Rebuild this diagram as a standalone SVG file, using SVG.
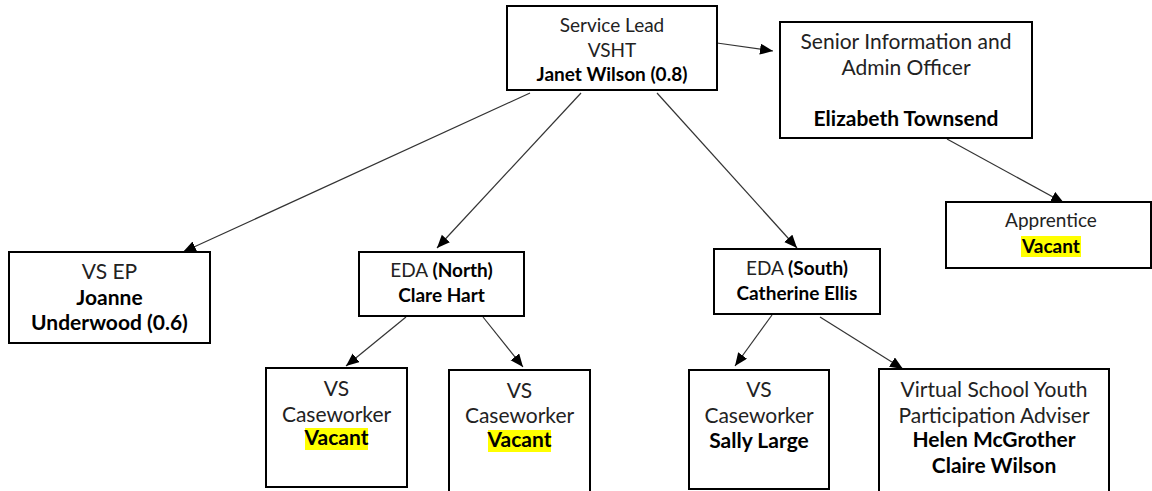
<svg xmlns="http://www.w3.org/2000/svg" width="1152" height="491" viewBox="0 0 1152 491">
  <defs>
    <marker id="arrow" markerUnits="userSpaceOnUse" markerWidth="14" markerHeight="12" refX="13" refY="5.5" orient="auto">
      <path d="M0,0 L13,5.5 L0,11 Z" fill="#000"/>
    </marker>
    <style>
      .box { fill: #fff; stroke: #000; stroke-width: 2; }
      .lnk { stroke: #333; stroke-width: 1.2; fill: none; marker-end: url(#arrow); }
      text { font-family: Lato, "Liberation Sans", sans-serif; text-anchor: middle; fill: #222; }
      .s20 { font-size: 19px; }
      .s22 { font-size: 21px; }
      .b { font-weight: bold; fill: #000; }
      .hl { fill: #ffff00; }
    </style>
  </defs>

  <rect width="1152" height="491" fill="#fff"/>

  <!-- reporting lines -->
  <g id="connectors">
    <line class="lnk" x1="717" y1="43" x2="773" y2="51"/>
    <line class="lnk" x1="530" y1="93" x2="183" y2="252"/>
    <line class="lnk" x1="581" y1="93" x2="437" y2="248"/>
    <line class="lnk" x1="657" y1="93" x2="797" y2="248"/>
    <line class="lnk" x1="947" y1="139" x2="1064" y2="203"/>
    <line class="lnk" x1="406" y1="317" x2="346" y2="366"/>
    <line class="lnk" x1="483" y1="317" x2="523" y2="367"/>
    <line class="lnk" x1="772" y1="315" x2="735" y2="366"/>
    <line class="lnk" x1="820" y1="317" x2="903" y2="369"/>
  </g>

  <g id="service-lead">
    <rect class="box" x="507" y="6" width="210" height="84"/>
    <text class="s20" x="612" y="32">Service Lead</text>
    <text class="s20" x="612" y="57">VSHT</text>
    <text class="s20 b" x="612" y="81">Janet Wilson (0.8)</text>
  </g>

  <g id="senior-admin">
    <rect class="box" x="780" y="22" width="252" height="116"/>
    <text class="s22" x="906" y="49">Senior Information and</text>
    <text class="s22" x="906" y="75">Admin Officer</text>
    <text class="s22 b" x="906" y="126">Elizabeth Townsend</text>
  </g>

  <g id="apprentice">
    <rect class="box" x="946" y="202" width="205" height="66"/>
    <text class="s20" x="1051" y="227">Apprentice</text>
    <rect class="hl" x="1021" y="236" width="60" height="21"/>
    <text class="s20 b" x="1051" y="253">Vacant</text>
  </g>

  <g id="vs-ep">
    <rect class="box" x="9" y="252" width="201" height="91"/>
    <text class="s22" x="109.5" y="279">VS EP</text>
    <text class="s22 b" x="109.5" y="305">Joanne</text>
    <text class="s22 b" x="109.5" y="330">Underwood (0.6)</text>
  </g>

  <g id="eda-north">
    <rect class="box" x="359" y="252" width="165" height="64"/>
    <text class="s20" x="441.5" y="277">EDA <tspan class="b">(North)</tspan></text>
    <text class="s20 b" x="441.5" y="302">Clare Hart</text>
  </g>

  <g id="caseworker-north-1">
    <rect class="box" x="266" y="368" width="141" height="119"/>
    <text class="s22" x="336.5" y="396">VS</text>
    <text class="s22" x="336.5" y="422">Caseworker</text>
    <rect class="hl" x="305" y="428" width="63" height="22"/>
    <text class="s22 b" x="336.5" y="445">Vacant</text>
  </g>

  <g id="caseworker-north-2">
    <rect class="box" x="449" y="370" width="141" height="130"/>
    <text class="s22" x="519.5" y="398">VS</text>
    <text class="s22" x="519.5" y="423">Caseworker</text>
    <rect class="hl" x="488" y="430" width="63" height="22"/>
    <text class="s22 b" x="519.5" y="447">Vacant</text>
  </g>

  <g id="eda-south">
    <rect class="box" x="714" y="249" width="166" height="65"/>
    <text class="s20" x="797" y="275">EDA <tspan class="b">(South)</tspan></text>
    <text class="s20 b" x="797" y="300">Catherine Ellis</text>
  </g>

  <g id="caseworker-south">
    <rect class="box" x="689" y="370" width="140" height="119"/>
    <text class="s22" x="759" y="397">VS</text>
    <text class="s22" x="759" y="423">Caseworker</text>
    <text class="s22 b" x="759" y="448">Sally Large</text>
  </g>

  <g id="youth-participation">
    <rect class="box" x="879" y="369" width="230" height="130"/>
    <text class="s22" x="994" y="397">Virtual School Youth</text>
    <text class="s22" x="994" y="423">Participation Adviser</text>
    <text class="s22 b" x="994" y="447">Helen McGrother</text>
    <text class="s22 b" x="994" y="473">Claire Wilson</text>
  </g>
</svg>
